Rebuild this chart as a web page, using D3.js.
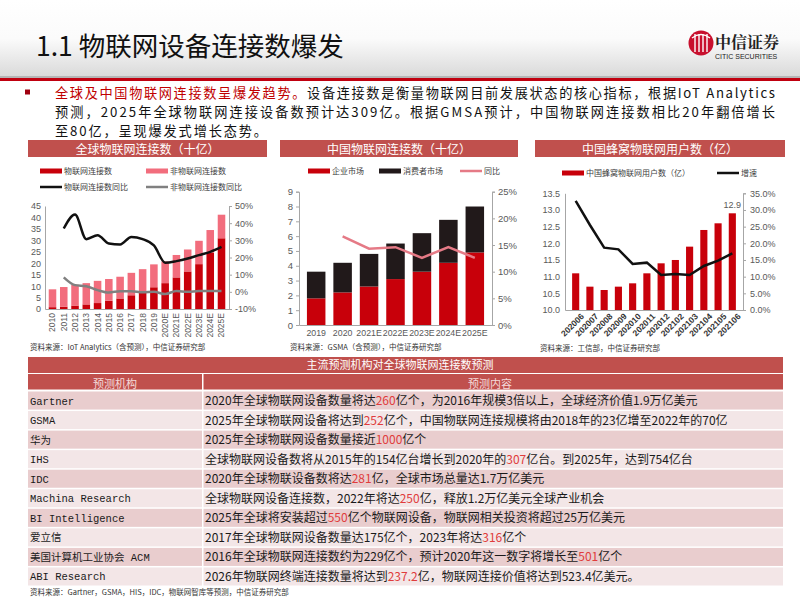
<!DOCTYPE html>
<html>
<head>
<meta charset="utf-8">
<script src="https://cdn.jsdelivr.net/npm/d3@7"></script>
<style>
body { margin: 0; background: #fff; }
svg { display: block; }
text { font-family: "Noto Sans CJK SC", "Liberation Sans", sans-serif; }
</style>
</head>
<body>
<svg id="page" width="800" height="600"></svg>
<script>
'use strict';

// ---- chart 1: global connections (billions) ----
var years1 = ["2010", "2011", "2012", "2013", "2014", "2015", "2016", "2017", "2018", "2019",
              "2020E", "2021E", "2022E", "2023E", "2024E", "2025E"];
var iotConn = [0.8, 1.0, 1.5, 2.0, 2.6, 3.6, 4.6, 6.0, 7.0, 9.5, 11.3, 13.8, 16.4, 19.6, 24.5, 30.9];
var nonIotConn = [7.8, 8.6, 9.1, 9.3, 9.7, 9.5, 9.5, 9.8, 10.4, 10.0, 9.5, 9.8, 9.6, 10.2, 10.0, 10.3];
var iotYoy = [null, 0.369, 0.45, 0.307, 0.33, 0.282, 0.276, 0.32, 0.307, 0.27, 0.17, 0.179, 0.194, 0.214, 0.233, 0.262];
var nonIotYoy = [null, 0.084, 0.039, 0.033, 0.01, -0.004, 0.004, 0.004, -0.002, 0.0, -0.013, 0.005, 0.0, 0.005, 0.005, 0.005];

// ---- chart 2: China connections (billions) ----
var years2 = ["2019", "2020", "2021E", "2022E", "2023E", "2024E", "2025E"];
var enterprise = [1.8, 2.2, 2.6, 3.1, 3.6, 4.2, 4.9];
var consumer = [1.8, 2.0, 2.2, 2.4, 2.6, 2.9, 3.1];
var yoy2 = [null, 0.166, 0.143, 0.146, 0.126, 0.146, 0.126];

// ---- chart 3: China cellular IoT users (100 million) ----
var months3 = ["202006", "202007", "202008", "202009", "202010", "202011", "202012",
               "202102", "202103", "202104", "202105", "202106"];
var users3 = [11.1, 10.7, 10.6, 10.7, 10.8, 11.1, 11.4, 11.5, 11.9, 12.4, 12.6, 12.9];
var growth3 = [0.327, 0.255, 0.187, 0.182, 0.138, 0.142, 0.105, 0.108, 0.105, 0.132, 0.148, 0.17];

// ---- table ----
var agencies = ["Gartner", "GSMA", "华为", "IHS", "IDC", "Machina Research", "BI Intelligence",
                "爱立信", "美国计算机工业协会 ACM", "ABI Research"];
var contentPre = [
  "2020年全球物联网设备数量将达",
  "2025年全球物联网设备将达到",
  "2025年全球物联网设备数量接近",
  "全球物联网设备数将从2015年的154亿台增长到2020年的",
  "2020年全球物联设备数将达",
  "全球物联网设备连接数，2022年将达",
  "2025年全球将安装超过",
  "2017年全球物联网设备数量达175亿个，2023年将达",
  "2016年全球物联网连接数约为229亿个，预计2020年这一数字将增长至",
  "2026年物联网终端连接数量将达到"
];
var contentHi = ["260", "252", "1000", "307", "281", "250", "550", "316", "501", "237.2"];
var contentPost = [
  "亿个，为2016年规模3倍以上，全球经济价值1.9万亿美元",
  "亿个，中国物联网连接规模将由2018年的23亿增至2022年的70亿",
  "亿个",
  "亿台。到2025年，达到754亿台",
  "亿，全球市场总量达1.7万亿美元",
  "亿，释放1.2万亿美元全球产业机会",
  "亿个物联网设备，物联网相关投资将超过25万亿美元",
  "亿个",
  "亿个",
  "亿，物联网连接价值将达到523.4亿美元。"
];

var RED = "#c8000a", BAR_TITLE = "#c0504d", AXIS = "#a6a6a6", LABEL = "#595959";
var LATIN = "Liberation Sans, Arial, sans-serif";

var svg = d3.select("#page");

// ---------- header ----------
var defs = svg.append("defs");
var hg = defs.append("linearGradient").attr("id", "hg")
             .attr("x1", 0).attr("y1", 0).attr("x2", 0).attr("y2", 1);
hg.append("stop").attr("offset", "0").attr("stop-color", "#ffffff");
hg.append("stop").attr("offset", "0.5").attr("stop-color", "#fbfbfb");
hg.append("stop").attr("offset", "1").attr("stop-color", "#d9d9d9");
svg.append("rect").attr("x", 0).attr("y", 0).attr("width", 800).attr("height", 77).attr("fill", "url(#hg)");
svg.append("rect").attr("x", 0).attr("y", 76).attr("width", 800).attr("height", 2).attr("fill", "#b5b5b5");
svg.append("rect").attr("x", 0).attr("y", 78).attr("width", 800).attr("height", 3).attr("fill", "#c0000f");

svg.append("text").attr("x", 36).attr("y", 56)
   .style("font-size", "26.5px").attr("fill", "#111")
   .text("1.1 物联网设备连接数爆发");

// logo
var logo = svg.append("g");
logo.append("circle").attr("cx", 701).attr("cy", 43).attr("r", 12.5).attr("fill", "#c8102e");
[-6, -2, 2, 6].forEach(function(dx) {
  logo.append("line").attr("x1", 701 + dx).attr("x2", 701 + dx).attr("y1", 34).attr("y2", 52)
      .attr("stroke", "#fff").attr("stroke-width", 1.4);
});
logo.append("path").attr("d", "M692,38 Q701,31 710,38").attr("fill", "none").attr("stroke", "#fff").attr("stroke-width", 1.4);
logo.append("text").attr("x", 715).attr("y", 48).style("font-size", "16px").style("font-weight", "bold")
    .style("font-family", "Noto Serif CJK SC, Noto Sans CJK SC, serif").attr("fill", "#222").text("中信证券");
logo.append("text").attr("x", 715).attr("y", 59).style("font-size", "7px").style("font-family", LATIN)
    .attr("fill", "#222").text("CITIC SECURITIES");

// ---------- bullet text ----------
svg.append("rect").attr("x", 25).attr("y", 89.5).attr("width", 5).attr("height", 5).attr("fill", "#a00010");
var l1 = svg.append("text").attr("x", 55).attr("y", 97.5).style("font-size", "13.2px").attr("fill", "#111")
            .attr("textLength", 720).attr("lengthAdjust", "spacing");
l1.append("tspan").attr("fill", "#c00000").text("全球及中国物联网连接数呈爆发趋势。");
l1.append("tspan").text("设备连接数是衡量物联网目前发展状态的核心指标，根据IoT Analytics");
svg.append("text").attr("x", 55).attr("y", 116.6).style("font-size", "13.2px").attr("fill", "#111")
   .attr("textLength", 720).attr("lengthAdjust", "spacing")
   .text("预测，2025年全球物联网连接设备数预计达309亿。根据GMSA预计，中国物联网连接数相比20年翻倍增长");
svg.append("text").attr("x", 55).attr("y", 135.5).style("font-size", "13.2px").attr("fill", "#111")
   .attr("textLength", 212).attr("lengthAdjust", "spacing")
   .text("至80亿，呈现爆发式增长态势。");

// ---------- helpers ----------
function titleBar(x0, x1, label) {
  svg.append("rect").attr("x", x0).attr("y", 140).attr("width", x1 - x0).attr("height", 17).attr("fill", BAR_TITLE);
  svg.append("text").attr("x", (x0 + x1) / 2).attr("y", 154).attr("text-anchor", "middle")
     .style("font-size", "12px").attr("fill", "#fff").text(label);
}

function styleAxis(g, size) {
  g.select(".domain").attr("stroke", AXIS);
  g.selectAll(".tick line").attr("stroke", AXIS);
  g.selectAll(".tick text").attr("fill", LABEL).style("font-size", size || "9px").style("font-family", LATIN);
}

function legendRect(x, y, color, label) {
  svg.append("rect").attr("x", x).attr("y", y - 2.5).attr("width", 22).attr("height", 5).attr("fill", color);
  svg.append("text").attr("x", x + 24).attr("y", y + 3).style("font-size", "8px").attr("fill", "#404040").text(label);
}

function legendLine(x, y, color, label) {
  svg.append("line").attr("x1", x).attr("x2", x + 22).attr("y1", y).attr("y2", y)
     .attr("stroke", color).attr("stroke-width", 2.5);
  svg.append("text").attr("x", x + 24).attr("y", y + 3).style("font-size", "8px").attr("fill", "#404040").text(label);
}

function source(x, y, label) {
  svg.append("text").attr("x", x).attr("y", y).style("font-size", "7.5px").attr("fill", "#333").text(label);
}

// ---------- chart 1 ----------
function chart1() {
  titleBar(28, 267, "全球物联网连接数（十亿）");
  legendRect(40, 171, RED, "物联网连接数");
  legendRect(146, 171, "#f26d7d", "非物联网连接数");
  legendLine(40, 187, "#111", "物联网连接数同比");
  legendLine(146, 187, "#808080", "非物联网连接数同比");

  var x = d3.scaleBand().domain(years1).range([45, 229]).padding(0.33);
  var yL = d3.scaleLinear().domain([0, 45]).range([309, 206]);
  var yR = d3.scaleLinear().domain([-0.1, 0.5]).range([309, 206]);
  var g = svg.append("g");

  g.selectAll(".iot").data(years1).enter().append("rect")
   .attr("x", function(d) { return x(d); })
   .attr("width", x.bandwidth())
   .attr("y", function(d, i) { return yL(iotConn[i]); })
   .attr("height", function(d, i) { return yL(0) - yL(iotConn[i]); })
   .attr("fill", RED);
  g.selectAll(".non").data(years1).enter().append("rect")
   .attr("x", function(d) { return x(d); })
   .attr("width", x.bandwidth())
   .attr("y", function(d, i) { return yL(iotConn[i] + nonIotConn[i]); })
   .attr("height", function(d, i) { return yL(iotConn[i]) - yL(iotConn[i] + nonIotConn[i]); })
   .attr("fill", "#f26d7d");

  var la = g.append("g").attr("transform", "translate(45,0)")
            .call(d3.axisLeft(yL).tickValues(d3.range(0, 46, 5)).tickSize(0).tickPadding(4));
  styleAxis(la);
  var ra = g.append("g").attr("transform", "translate(229,0)")
            .call(d3.axisRight(yR).tickValues([-0.1, 0, 0.1, 0.2, 0.3, 0.4, 0.5]).tickSize(3).tickPadding(3)
            .tickFormat(function(d) { return Math.round(d * 100) + "%"; }));
  styleAxis(ra);

  var xa = g.append("g").attr("transform", "translate(0,309)")
            .call(d3.axisBottom(x).tickSize(0).tickPadding(4));
  styleAxis(xa, "8.5px");
  xa.selectAll(".tick text").attr("transform", "rotate(-90)").attr("text-anchor", "end")
    .attr("x", -4).attr("y", 0).attr("dy", "0.35em");

  var line = function(vals) {
    return d3.line()
      .defined(function(d) { return d != null; })
      .x(function(d, i) { return x(years1[i]) + x.bandwidth() / 2; })
      .y(function(d) { return yR(d); })
      .curve(d3.curveMonotoneX)(vals);
  };
  g.append("path").attr("d", line(nonIotYoy)).attr("fill", "none").attr("stroke", "#808080").attr("stroke-width", 2.5);
  g.append("path").attr("d", line(iotYoy)).attr("fill", "none").attr("stroke", "#111").attr("stroke-width", 2.5);

  source(30, 350, "资料来源：IoT Analytics（含预测），中信证券研究部");
}

// ---------- chart 2 ----------
function chart2() {
  titleBar(280, 518, "中国物联网连接数（十亿）");
  legendRect(308, 171, RED, "企业市场");
  legendRect(379, 171, "#21191a", "消费者市场");
  legendLine(460, 171, "#e57a86", "同比");

  var x = d3.scaleBand().domain(years2).range([299, 492]).padding(0.3);
  var yL = d3.scaleLinear().domain([0, 9]).range([325, 191.7]);
  var yR = d3.scaleLinear().domain([0, 0.25]).range([325, 191.7]);
  var g = svg.append("g");

  g.selectAll(".ent").data(years2).enter().append("rect")
   .attr("x", function(d) { return x(d); })
   .attr("width", x.bandwidth())
   .attr("y", function(d, i) { return yL(enterprise[i]); })
   .attr("height", function(d, i) { return yL(0) - yL(enterprise[i]); })
   .attr("fill", RED);
  g.selectAll(".con").data(years2).enter().append("rect")
   .attr("x", function(d) { return x(d); })
   .attr("width", x.bandwidth())
   .attr("y", function(d, i) { return yL(enterprise[i] + consumer[i]); })
   .attr("height", function(d, i) { return yL(enterprise[i]) - yL(enterprise[i] + consumer[i]); })
   .attr("fill", "#21191a");

  var la = g.append("g").attr("transform", "translate(299,0)")
            .call(d3.axisLeft(yL).ticks(9).tickSize(3).tickPadding(3));
  styleAxis(la, "9.5px");
  var ra = g.append("g").attr("transform", "translate(492,0)")
            .call(d3.axisRight(yR).tickValues([0, 0.05, 0.1, 0.15, 0.2, 0.25]).tickSize(3).tickPadding(3)
            .tickFormat(function(d) { return Math.round(d * 100) + "%"; }));
  styleAxis(ra, "9.5px");
  var xa = g.append("g").attr("transform", "translate(0,325)")
            .call(d3.axisBottom(x).tickSize(0).tickPadding(5));
  styleAxis(xa, "8.8px");

  var line = d3.line()
    .defined(function(d) { return d != null; })
    .x(function(d, i) { return x(years2[i]) + x.bandwidth() / 2; })
    .y(function(d) { return yR(d); });
  g.append("path").attr("d", line(yoy2)).attr("fill", "none").attr("stroke", "#e57a86").attr("stroke-width", 2.5);

  source(290, 350, "资料来源：GSMA（含预测），中信证券研究部");
}

// ---------- chart 3 ----------
function chart3() {
  titleBar(535, 785, "中国蜂窝物联网用户数（亿）");
  legendRect(562, 173, RED, "中国蜂窝物联网用户数（亿）");
  legendLine(717, 173, "#111", "增速");

  var x = d3.scaleBand().domain(months3).range([565, 743]).padding(0.5);
  var yL = d3.scaleLinear().domain([10, 13.5]).range([310, 193.3]);
  var yR = d3.scaleLinear().domain([0, 0.35]).range([310, 193.3]);
  var g = svg.append("g");

  g.selectAll(".usr").data(months3).enter().append("rect")
   .attr("x", function(d) { return x(d); })
   .attr("width", x.bandwidth())
   .attr("y", function(d, i) { return yL(users3[i]); })
   .attr("height", function(d, i) { return yL(10) - yL(users3[i]); })
   .attr("fill", RED);

  var last = months3.length - 1;
  g.append("text").attr("x", x(months3[last]) + x.bandwidth() / 2).attr("y", yL(users3[last]) - 5)
   .attr("text-anchor", "middle").style("font-size", "9px").style("font-family", LATIN)
   .attr("fill", LABEL).text(users3[last].toFixed(1));

  var la = g.append("g").attr("transform", "translate(565,0)")
            .call(d3.axisLeft(yL).tickValues(d3.range(10, 13.51, 0.5)).tickSize(0).tickPadding(5)
            .tickFormat(d3.format(".1f")));
  styleAxis(la);
  var ra = g.append("g").attr("transform", "translate(743,0)")
            .call(d3.axisRight(yR).tickValues([0, 0.05, 0.1, 0.15, 0.2, 0.25, 0.3, 0.35]).tickSize(3).tickPadding(4)
            .tickFormat(function(d) { return (d * 100).toFixed(1) + "%"; }));
  styleAxis(ra);
  var xa = g.append("g").attr("transform", "translate(0,310)")
            .call(d3.axisBottom(x).tickSize(0).tickPadding(4));
  styleAxis(xa, "8.5px");
  xa.selectAll(".tick text").attr("transform", "translate(4,2) rotate(-45)").attr("text-anchor", "end")
    .attr("y", 4).attr("dy", "0.35em").attr("fill", "#333").style("font-weight", "bold");

  var line = d3.line()
    .x(function(d, i) { return x(months3[i]) + x.bandwidth() / 2; })
    .y(function(d) { return yR(d); });
  g.append("path").attr("d", line(growth3)).attr("fill", "none").attr("stroke", "#111").attr("stroke-width", 2.5);

  source(540, 351, "资料来源：工信部，中信证券研究部");
}

// ---------- table ----------
function table() {
  var x0 = 28, xMid = 202, x1 = 783;
  svg.append("rect").attr("x", x0).attr("y", 357).attr("width", x1 - x0).attr("height", 16).attr("fill", BAR_TITLE);
  svg.append("text").attr("x", 400).attr("y", 369).attr("text-anchor", "middle")
     .style("font-size", "11px").attr("fill", "#fff").text("主流预测机构对全球物联网连接数预测");
  svg.append("rect").attr("x", x0).attr("y", 374).attr("width", xMid - x0).attr("height", 15.5).attr("fill", BAR_TITLE);
  svg.append("rect").attr("x", xMid + 1.5).attr("y", 374).attr("width", x1 - xMid - 1.5).attr("height", 15.5).attr("fill", BAR_TITLE);
  svg.append("text").attr("x", (x0 + xMid) / 2).attr("y", 388).attr("text-anchor", "middle")
     .style("font-size", "11px").attr("fill", "#f4dada").text("预测机构");
  svg.append("text").attr("x", 490).attr("y", 388).attr("text-anchor", "middle")
     .style("font-size", "11px").attr("fill", "#f4dada").text("预测内容");

  var rowY = d3.scaleBand().domain(d3.range(agencies.length)).range([390.5, 586]);
  var rows = svg.selectAll(".row").data(agencies).enter().append("g");
  rows.append("rect").attr("x", x0).attr("y", function(d, i) { return rowY(i) + 1; })
      .attr("width", xMid - x0).attr("height", rowY.bandwidth() - 1.5)
      .attr("fill", function(d, i) { return i % 2 === 0 ? "#e9cdce" : "#f3e6e7"; });
  rows.append("rect").attr("x", xMid + 1.5).attr("y", function(d, i) { return rowY(i) + 1; })
      .attr("width", x1 - xMid - 1.5).attr("height", rowY.bandwidth() - 1.5)
      .attr("fill", function(d, i) { return i % 2 === 0 ? "#e9cdce" : "#f3e6e7"; });
  rows.append("text").attr("x", 30).attr("y", function(d, i) { return rowY(i) + 14; })
      .style("font-family", "Liberation Mono, Noto Sans CJK SC, monospace").style("font-size", "10.5px")
      .attr("fill", "#1a1a1a").text(function(d) { return d; });
  var ct = rows.append("text").attr("x", 205).attr("y", function(d, i) { return rowY(i) + 14.5; })
      .style("font-size", "12px").attr("fill", "#1a1a1a");
  ct.append("tspan").text(function(d, i) { return contentPre[i]; });
  ct.append("tspan").attr("fill", "#e03c3c").text(function(d, i) { return contentHi[i]; });
  ct.append("tspan").text(function(d, i) { return contentPost[i]; });

  source(30, 595, "资料来源：Gartner，GSMA，HIS，IDC，物联网智库等预测，中信证券研究部");
}

chart1();
chart2();
chart3();
table();
</script>
</body>
</html>
